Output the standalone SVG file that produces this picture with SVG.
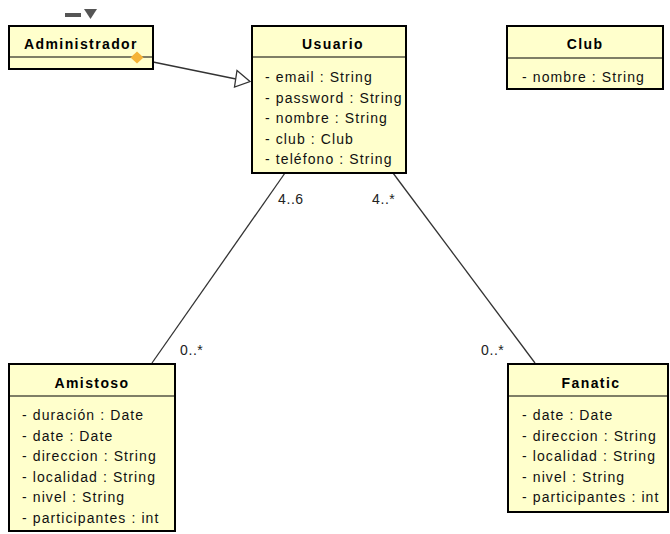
<svg xmlns="http://www.w3.org/2000/svg" width="670" height="534" viewBox="0 0 670 534">
<style>
.box{fill:#ffffcc;stroke:#000;stroke-width:2}
.div{stroke:#000;stroke-width:1.2}
.t{font-family:"Liberation Sans",Arial,sans-serif;font-size:14px;font-weight:bold;letter-spacing:1.4px;text-anchor:middle;fill:#000}
.a{font-family:"Liberation Sans",Arial,sans-serif;font-size:14px;letter-spacing:1.1px;fill:#111}
.m{font-family:"Liberation Sans",Arial,sans-serif;font-size:14px;letter-spacing:0.6px;fill:#222}
.ln{stroke:#333;stroke-width:1.3;fill:none}
</style>
<rect width="670" height="534" fill="#fff"/>
<g id="icon">
<rect x="65" y="13" width="16" height="4" fill="#555"/>
<polygon points="84,9 97,9 90.5,19" fill="#555"/>
</g>
<g id="connectors">
<line class="ln" x1="153" y1="62" x2="236" y2="79"/>
<polygon points="250,81.5 237,70.5 234.5,87" fill="#fff" stroke="#333" stroke-width="1.3"/>
<line class="ln" x1="285" y1="173" x2="152" y2="363"/>
<line class="ln" x1="393" y1="173" x2="535" y2="363"/>
<text class="m" x="278" y="204">4..6</text>
<text class="m" x="372" y="204">4..*</text>
<text class="m" x="180" y="355">0..*</text>
<text class="m" x="481" y="355">0..*</text>
</g>
<g id="Administrador">
<rect class="box" x="9" y="26" width="144" height="43"/>
<line class="div" x1="9" y1="57" x2="153" y2="57"/>
<text class="t" x="81" y="49">Administrador</text>
<polygon points="137,51.5 143.5,57.5 137,63.5 130.5,57.5" fill="#f5b335"/>
</g>
<g id="Usuario">
<rect class="box" x="252" y="26" width="154" height="147"/>
<line class="div" x1="252" y1="57" x2="406" y2="57"/>
<text class="t" x="333" y="49">Usuario</text>
<text class="a" x="265" y="82">- email : String</text>
<text class="a" x="265" y="102.5">- password : String</text>
<text class="a" x="265" y="123">- nombre : String</text>
<text class="a" x="265" y="143.5">- club : Club</text>
<text class="a" x="265" y="164">- teléfono : String</text>
</g>
<g id="Club">
<rect class="box" x="507" y="26" width="156" height="63"/>
<line class="div" x1="507" y1="58" x2="663" y2="58"/>
<text class="t" x="585" y="49">Club</text>
<text class="a" x="522" y="82">- nombre : String</text>
</g>
<g id="Amistoso">
<rect class="box" x="9" y="364" width="166" height="167"/>
<line class="div" x1="9" y1="396" x2="175" y2="396"/>
<text class="t" x="92" y="388">Amistoso</text>
<text class="a" x="22" y="420">- duración : Date</text>
<text class="a" x="22" y="440.6">- date : Date</text>
<text class="a" x="22" y="461.2">- direccion : String</text>
<text class="a" x="22" y="481.8">- localidad : String</text>
<text class="a" x="22" y="502.4">- nivel : String</text>
<text class="a" x="22" y="523">- participantes : int</text>
</g>
<g id="Fanatic">
<rect class="box" x="508" y="364" width="160" height="148"/>
<line class="div" x1="508" y1="396" x2="668" y2="396"/>
<text class="t" x="591" y="388">Fanatic</text>
<text class="a" x="522" y="420">- date : Date</text>
<text class="a" x="522" y="440.6">- direccion : String</text>
<text class="a" x="522" y="461.2">- localidad : String</text>
<text class="a" x="522" y="481.8">- nivel : String</text>
<text class="a" x="522" y="502.4">- participantes : int</text>
</g>
</svg>
